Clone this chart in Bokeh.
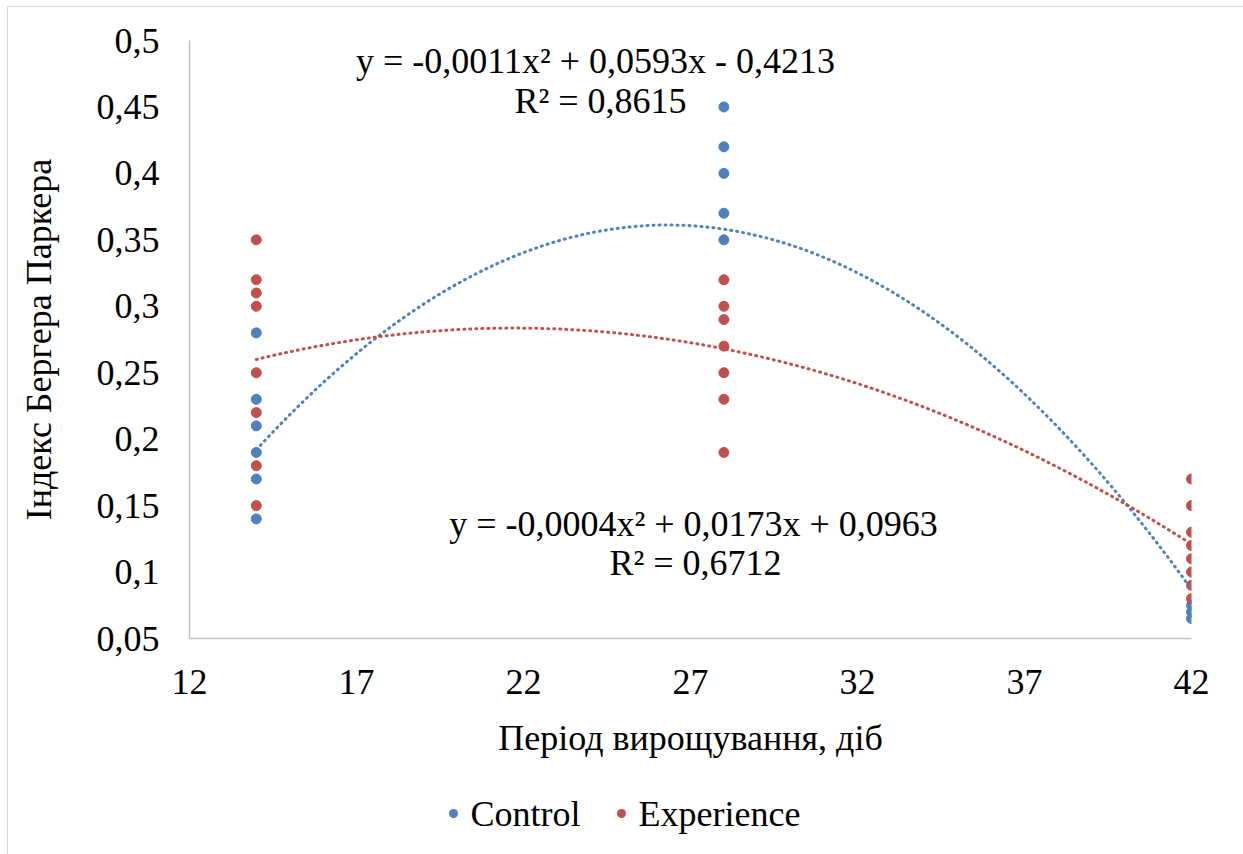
import numpy as np
from bokeh.plotting import figure
from bokeh.layouts import column
from bokeh.models import FixedTicker, Label, Div
from bokeh.embed import file_html
from bokeh.resources import INLINE

# ---- data ----
days = [14, 28, 42]
control_14 = [0.28, 0.23, 0.21, 0.19, 0.17, 0.14]
control_28 = [0.45, 0.42, 0.40, 0.37, 0.35]
control_42 = [0.075, 0.07, 0.065]
experience_14 = [0.35, 0.32, 0.31, 0.30, 0.25, 0.22, 0.18, 0.15]
experience_28 = [0.32, 0.30, 0.29, 0.27, 0.25, 0.23, 0.19]
experience_42 = [0.17, 0.15, 0.13, 0.12, 0.11, 0.10, 0.09, 0.08]

# polynomial trendline values read at 14, 28, 42 days
control_trend = [0.192, 0.358, 0.087]
experience_trend = [0.260, 0.268, 0.121]

control_eq = "y = -0,0011x² + 0,0593x - 0,4213"
control_r2 = "R² = 0,8615"
experience_eq = "y = -0,0004x² + 0,0173x + 0,0963"
experience_r2 = "R² = 0,6712"

x_ticks = [12, 17, 22, 27, 32, 37, 42]
y_ticks = [0.05, 0.1, 0.15, 0.2, 0.25, 0.3, 0.35, 0.4, 0.45, 0.5]
y_labels = ["0,05", "0,1", "0,15", "0,2", "0,25", "0,3", "0,35", "0,4", "0,45", "0,5"]

x_title = "Період вирощування, діб"
y_title = "Індекс Бергера Паркера"
series_names = ["Control", "Experience"]

BLUE = "#4F81BD"
RED = "#C0504D"
FONT = "Liberation Serif"
FS = "36px"

def flatten(groups):
    xs, ys = [], []
    for d, vals in zip(days, groups):
        xs += [d] * len(vals)
        ys += vals
    return xs, ys

cx, cy = flatten([control_14, control_28, control_42])
ex, ey = flatten([experience_14, experience_28, experience_42])

xx = np.linspace(days[0], days[-1], 300)
c_fit = np.polyval(np.polyfit(days, control_trend, 2), xx)
e_fit = np.polyval(np.polyfit(days, experience_trend, 2), xx)

p = figure(frame_width=1002, frame_height=598,
           min_border_left=181, min_border_right=50,
           min_border_top=33, min_border_bottom=140,
           x_range=(12, 42), y_range=(0.05, 0.5),
           output_backend="svg", toolbar_location=None)
p.outline_line_color = None
p.xgrid.visible = False
p.ygrid.visible = False
p.background_fill_color = "white"
p.border_fill_color = "white"

p.scatter(cx, cy, size=10, color=BLUE)
p.scatter(ex, ey, size=10, color=RED)
p.line(xx, c_fit, line_color=BLUE, line_width=3, line_dash="1 5", line_cap="round")
p.line(xx, e_fit, line_color=RED, line_width=3, line_dash="1 5", line_cap="round")

for ax in (p.xaxis[0], p.yaxis[0]):
    ax.axis_line_color = "#bfbfbf"
    ax.axis_line_width = 1.5
    ax.major_tick_line_color = None
    ax.minor_tick_line_color = None
    ax.major_tick_out = 0
    ax.major_tick_in = 0
    ax.major_label_text_font = FONT
    ax.major_label_text_font_size = FS
    ax.major_label_text_color = "black"
    ax.axis_label_text_font = FONT
    ax.axis_label_text_font_size = FS
    ax.axis_label_text_font_style = "normal"
    ax.axis_label_text_color = "black"

p.xaxis.ticker = FixedTicker(ticks=x_ticks)
p.yaxis.ticker = FixedTicker(ticks=y_ticks)
p.yaxis.major_label_overrides = {t: l for t, l in zip(y_ticks, y_labels)}
p.xaxis.major_label_standoff = 31
p.yaxis.major_label_standoff = 30
p.xaxis.axis_label = x_title
p.yaxis.axis_label = y_title
p.xaxis.axis_label_standoff = 21
p.yaxis.axis_label_standoff = 35

for txt, sx, sy in [(control_eq, 406, 578), (control_r2, 411, 538),
                    (experience_eq, 504, 115), (experience_r2, 506, 76)]:
    p.add_layout(Label(x=sx, y=sy, x_units="screen", y_units="screen", text=txt,
                       text_font=FONT, text_font_size=FS, text_color="black",
                       text_align="center", text_baseline="middle"))

# legend (HTML, below the chart)
def item(color, name, gap_left):
    return (f'<span style="display:inline-flex;align-items:center;margin-left:{gap_left}px">'
            f'<span style="display:inline-block;width:9px;height:9px;border-radius:50%;'
            f'background:{color};margin-right:13px"></span>{name}</span>')

legend_html = (f'<div style="width:1233px;height:75px;display:flex;align-items:center;'
               f'justify-content:center;padding-right:10px;padding-bottom:14px;box-sizing:border-box;'
               f'font-family:\'{FONT}\';font-size:{FS};color:black;line-height:1">'
               + item(BLUE, series_names[0], 0) + item(RED, series_names[1], 36) + '</div>')
legend_div = Div(text=legend_html, width=1233, height=75)

layout = column(p, legend_div, spacing=0)
layout.margin = (6, 0, 0, 7)
layout.styles = {"border": "1px solid #d9d9d9"}

open("out.html", "w").write(file_html(layout, INLINE))
